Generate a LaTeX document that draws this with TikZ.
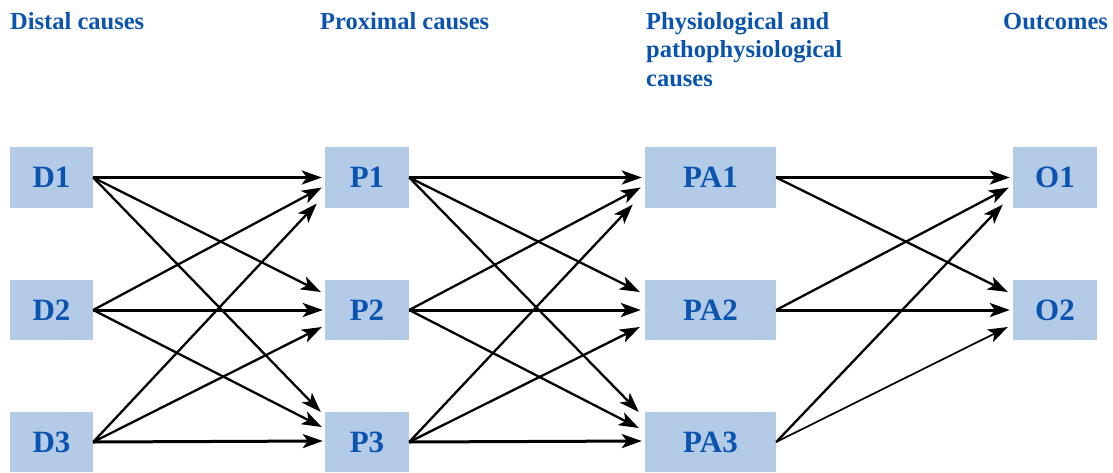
\documentclass[tikz,border=0pt]{standalone}
\usepackage{fontspec}
\setmainfont{Liberation Serif}
\usetikzlibrary{arrows.meta,calc}
\definecolor{txtblue}{RGB}{10,84,176}
\definecolor{boxfill}{RGB}{180,203,232}
\tikzset{
  box/.style={fill=boxfill, draw=none, inner sep=0pt, text=txtblue,
    font=\bfseries\fontsize{31}{34}\selectfont},
  head/.style={inner sep=0pt, text=txtblue, font=\bfseries\fontsize{24.5}{28.5}\selectfont, align=left},
  arr/.style={line width=2.3pt, -{Stealth[length=20pt,width=14pt,inset=5pt]}},
  harr/.style={arr, line width=3pt},
}
\newcommand\conn[5][]{\draw[arr,#1] (#2.east) -- ($(#3.west)+(#4,#5)$);}
\begin{document}
\begin{tikzpicture}[x=1pt,y=-1pt]
\useasboundingbox (0,0) rectangle (1113,472);
% headers
\node[head, anchor=base west] (h1) at (10,29) {Distal causes};
\node[head, anchor=base west] (h2) at (320,29) {Proximal causes};
\node[head, anchor=north west] (h3) at (646,12) {Physiological and\\pathophysiological\\causes};
\node[head, anchor=base west] (h4) at (1003,29) {Outcomes};
% boxes
\foreach \r/\y/\h in {1/177.5/61, 2/310/60, 3/442/60} {
  \node[box, minimum width=83pt, minimum height=\h pt] (D\r) at (51.5,\y) {D\r};
  \node[box, minimum width=84pt, minimum height=\h pt] (P\r) at (367,\y) {P\r};
  \node[box, minimum width=131pt, minimum height=\h pt] (PA\r) at (710.5,\y) {PA\r};
}
\node[box, minimum width=84pt, minimum height=61pt] (O1) at (1055,177.5) {O1};
\node[box, minimum width=84pt, minimum height=60pt] (O2) at (1055,310) {O2};
% D -> P
\conn[harr]{D1}{P1}{-3}{0}
\conn{D1}{P2}{-4}{-18}
\conn{D1}{P3}{-4}{-30}
\conn{D2}{P1}{-3}{10}
\conn[harr]{D2}{P2}{-2}{0}
\conn{D2}{P3}{-3}{-15}
\conn{D3}{P1}{-8}{26}
\conn{D3}{P2}{-3}{17}
\conn[harr]{D3}{P3}{-2}{-1}
% P -> PA
\conn[harr]{P1}{PA1}{-3}{0}
\conn{P1}{PA2}{-5}{-18}
\conn{P1}{PA3}{-6}{-30}
\conn{P2}{PA1}{-4}{10}
\conn[harr]{P2}{PA2}{-4}{0}
\conn{P2}{PA3}{-6}{-14}
\conn{P3}{PA1}{-12}{27}
\conn{P3}{PA2}{-5}{17}
\conn[harr]{P3}{PA3}{-3}{-1}
% PA -> O
\conn[harr]{PA1}{O1}{-3}{0}
\conn{PA1}{O2}{-5}{-18}
\conn{PA2}{O1}{-4}{10}
\conn[harr]{PA2}{O2}{-3}{0}
\conn{PA3}{O1}{-10}{27}
\conn[line width=1.7pt]{PA3}{O2}{-5}{17}
\end{tikzpicture}
\end{document}
